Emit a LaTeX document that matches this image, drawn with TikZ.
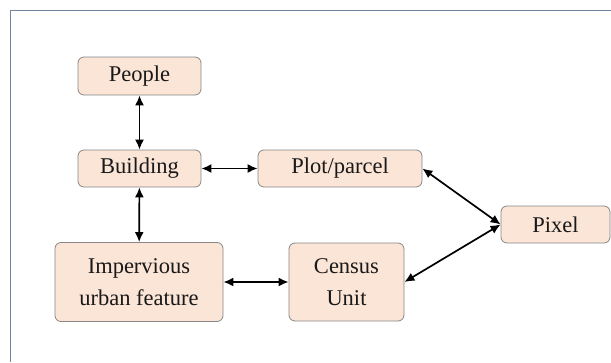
\documentclass[tikz,border=0pt]{standalone}
\usepackage{fontspec}
\setmainfont{Liberation Serif}
\usetikzlibrary{arrows.meta}

\definecolor{boxfill}{RGB}{251,229,214}
\definecolor{boxline}{RGB}{135,135,135}
\definecolor{framecol}{RGB}{110,134,158}

\tikzset{
  unit/.style={draw=boxline, fill=boxfill, rounded corners=6pt, line width=0.8pt,
    inner sep=0pt, align=center, text=black!90,
    font=\fontsize{22.5}{32}\selectfont},
  link/.style={{Latex[length=10pt,width=9pt]}-{Latex[length=10pt,width=9pt]}, line width=1.7pt}
}

\begin{document}
\begin{tikzpicture}[x=1pt,y=-1pt]
	\useasboundingbox (0,0) rectangle (611,362);
	\fill[white] (0,0) rectangle (611,362);
	\draw[framecol, line width=0.8pt] (10,362) -- (10,10) -- (611,10);

        % boxes
	\node[unit, minimum width=123pt, minimum height=38pt] (people) at (139.5,76) {People};
	\node[unit, minimum width=123pt, minimum height=37pt] (building) at (139.5,168.5) {Building};
	\node[unit, minimum width=164pt, minimum height=37pt] (plot) at (340,168.5) {Plot/parcel};
	\node[unit, minimum width=109pt, minimum height=37pt] (pixel) at (555.5,224.5) {Pixel};
	\node[unit, minimum width=168pt, minimum height=79pt] (imperv) at (139,282) {Impervious\\urban feature};
	\node[unit, minimum width=115pt, minimum height=78pt] (census) at (346.5,282) {Census\\Unit};

        % links
	\draw[link] (people) -- (building);
	\draw[link] (building) -- (plot);
	\draw[link] (building) -- (imperv);
	\draw[link] (imperv) -- (census);
	\draw[link] (plot.east) -- (pixel.west);
	\draw[link] (census.east) -- (pixel.west);
\end{tikzpicture}
\end{document}
